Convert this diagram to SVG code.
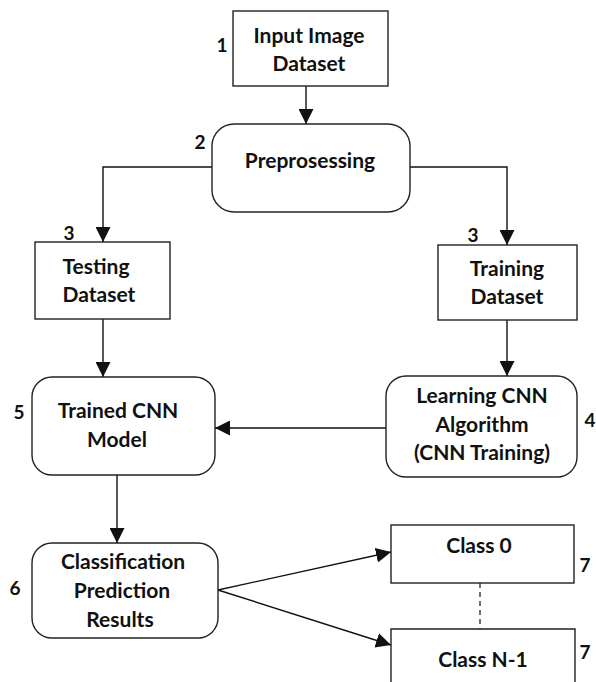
<svg xmlns="http://www.w3.org/2000/svg" width="596" height="682" viewBox="0 0 596 682">
  <style>
    .box { fill: #ffffff; stroke: #222222; stroke-width: 1.4; }
    .lbl { font-family: Lato, "Open Sans", "Liberation Sans", sans-serif; font-weight: bold; font-size: 21px; fill: #111111; text-anchor: middle; }
    .num { font-family: Lato, "Open Sans", "Liberation Sans", sans-serif; font-weight: bold; font-size: 19px; fill: #111111; text-anchor: middle; }
    .edge { fill: none; stroke: #111111; stroke-width: 1.4; }
    .dash { fill: none; stroke: #111111; stroke-width: 1.2; stroke-dasharray: 5 4; }
  </style>
  <defs>
    <marker id="arrowBig" viewBox="0 0 15 15" refX="15" refY="7.5" markerWidth="15" markerHeight="15" markerUnits="userSpaceOnUse" orient="auto">
      <path d="M0,0 L15,7.5 L0,15 Z" fill="#111111"/>
    </marker>
  </defs>
  <rect width="596" height="682" fill="#ffffff"/>

  <!-- connectors -->
  <g id="connectors">
    <line class="edge" x1="306" y1="86" x2="306" y2="124" marker-end="url(#arrowBig)"/>
    <polyline class="edge" points="212,167 103,167 103,242" marker-end="url(#arrowBig)"/>
    <polyline class="edge" points="410,167 507,167 507,245" marker-end="url(#arrowBig)"/>
    <line class="edge" x1="103" y1="319" x2="103" y2="377" marker-end="url(#arrowBig)"/>
    <line class="edge" x1="507" y1="320" x2="507" y2="376" marker-end="url(#arrowBig)"/>
    <line class="edge" x1="386" y1="428" x2="215" y2="428" marker-end="url(#arrowBig)"/>
    <line class="edge" x1="117" y1="475" x2="117" y2="543" marker-end="url(#arrowBig)"/>
    <line class="edge" x1="218" y1="590" x2="391" y2="552" marker-end="url(#arrowBig)"/>
    <line class="edge" x1="218" y1="590" x2="391" y2="645" marker-end="url(#arrowBig)"/>
    <line class="dash" x1="480" y1="583" x2="480" y2="629"/>
  </g>

  <g id="input">
    <rect class="box" x="233" y="11" width="155" height="75"/>
    <text class="lbl" x="309" y="43">Input Image</text>
    <text class="lbl" x="309" y="71">Dataset</text>
    <text class="num" x="222" y="52">1</text>
  </g>

  <g id="preprocessing">
    <rect class="box" x="212" y="124" width="198" height="88" rx="22" ry="22"/>
    <text class="lbl" x="310" y="168">Preprosessing</text>
    <text class="num" x="200" y="149">2</text>
  </g>

  <g id="testing">
    <rect class="box" x="35" y="242" width="135" height="77"/>
    <text class="lbl" x="96" y="274">Testing</text>
    <text class="lbl" x="99" y="302">Dataset</text>
    <text class="num" x="69" y="240">3</text>
  </g>

  <g id="training">
    <rect class="box" x="438" y="245" width="139" height="75"/>
    <text class="lbl" x="507" y="276">Training</text>
    <text class="lbl" x="507" y="304">Dataset</text>
    <text class="num" x="473" y="242">3</text>
  </g>

  <g id="trained-model">
    <rect class="box" x="32" y="377" width="183" height="98" rx="20" ry="20"/>
    <text class="lbl" x="118" y="418">Trained CNN</text>
    <text class="lbl" x="117" y="447">Model</text>
    <text class="num" x="19" y="419">5</text>
  </g>

  <g id="learning">
    <rect class="box" x="386" y="376" width="191" height="101" rx="20" ry="20"/>
    <text class="lbl" x="482" y="403">Learning CNN</text>
    <text class="lbl" x="482" y="432">Algorithm</text>
    <text class="lbl" x="482" y="460">(CNN Training)</text>
    <text class="num" x="590" y="427">4</text>
  </g>

  <g id="classification">
    <rect class="box" x="32" y="543" width="186" height="95" rx="20" ry="20"/>
    <text class="lbl" x="123" y="569">Classification</text>
    <text class="lbl" x="122" y="598">Prediction</text>
    <text class="lbl" x="120" y="627">Results</text>
    <text class="num" x="15" y="595">6</text>
  </g>

  <g id="class-0">
    <rect class="box" x="391" y="525" width="183" height="58"/>
    <text class="lbl" x="479" y="553">Class 0</text>
    <text class="num" x="585" y="572">7</text>
  </g>

  <g id="class-n1">
    <path class="box" d="M391,690 L391,629 L575,629 L575,690"/>
    <text class="lbl" x="483" y="667">Class N-1</text>
    <text class="num" x="585" y="659">7</text>
  </g>
</svg>
